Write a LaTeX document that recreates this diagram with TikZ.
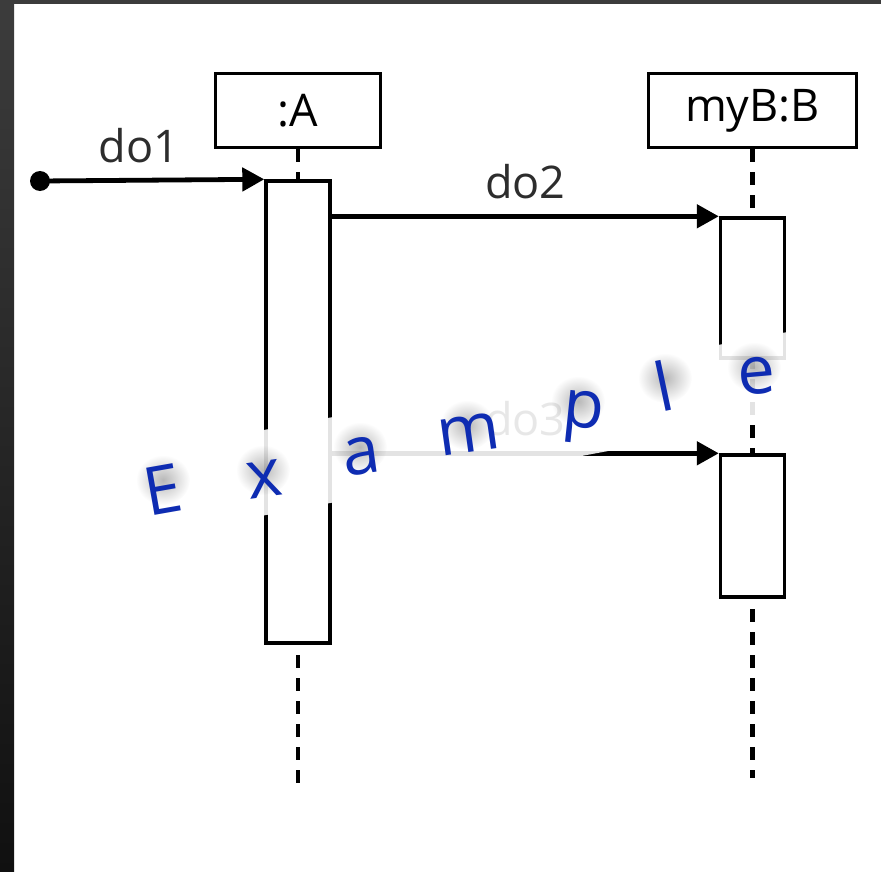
\documentclass[tikz,border=0pt]{standalone}
\usepackage{fontspec}
\setmainfont{Open Sans}
\usetikzlibrary{arrows.meta,fadings}
\definecolor{wmblue}{RGB}{14,44,178}
\definecolor{lblcol}{RGB}{45,45,45}
\definecolor{frameA}{RGB}{60,60,60}
\definecolor{frameB}{RGB}{16,16,16}
\tikzfading[name=softblob,inner color=transparent!72,outer color=transparent!100]
\newcommand\wmlet[6]{%
  \fill[black,path fading=softblob] ([shift={(-4,#6-9)}]#2,#3) ellipse[x radius=27pt,y radius=25pt];%
  \node[wmtext,rotate=#4] (#1) at (#2,#3) {#5};}
\begin{document}
\begin{tikzpicture}[x=1pt,y=-1pt,
  objbox/.style={draw=black,line width=3.4pt,fill=white,inner sep=0pt,minimum width=165pt,minimum height=74pt,font=\fontsize{45pt}{54pt}\selectfont},
  actbox/.style={draw=black,line width=3.4pt,fill=white,inner sep=0pt,minimum width=64pt},
  lifeline/.style={line width=4.6pt,dash pattern=on 13pt off 10pt},
  msg/.style={line width=4.8pt,-{Triangle[length=22pt,width=23pt]}},
  lbl/.style={anchor=base,yshift=18pt,text=lblcol,inner sep=0pt,font=\fontsize{45pt}{54pt}\selectfont},
  wmtext/.style={anchor=base,text=wmblue,inner sep=0pt,font=\fontsize{67pt}{70pt}\selectfont},
]
\fill[white] (0,0) rectangle (881,872);
\shade[top color=frameA,bottom color=frameB] (0,0) rectangle (14,872);
\fill[frameA] (0,0) rectangle (881,4);
\useasboundingbox (0,0) rectangle (881,872);

\node[objbox] (A) at (298,110.5) {:A};
\node[objbox,minimum width=208pt] (B) at (752.5,110.5) {myB:B};
\coordinate (Aend) at (298,785);
\coordinate (Bend) at (752.5,778);
\draw[lifeline] (A.south) -- (Aend);
\draw[lifeline] (B.south) -- (Bend);

\node[actbox,minimum height=462pt] (actA) at (298,412) {};
\node[actbox,minimum height=140pt] (actB1) at (752.5,288) {};
\node[actbox,minimum height=142pt] (actB2) at (752.5,526) {};

\coordinate (src) at (40,181);
\fill (src) circle[radius=10pt];
\draw[msg] (src) -- (actA.north west) node[lbl,pos=0.44] {do1};
\draw[msg] (actA.east |- actB1.north) -- (actB1.north west) node[lbl,midway] {do2};
\draw[msg] (actA.east |- actB2.north) -- (actB2.north west) node[lbl,midway] {do3};

\begin{scope}[rotate around={10.6:(460,436)}]
\fill[white,opacity=0.89] (130,394) -- (805,394) -- (805,478) -- (130,478) -- cycle;
\end{scope}

\wmlet{wE}{167}{513}{10}{E}{-24}
\wmlet{wx}{267}{497}{8}{x}{-18}
\wmlet{wa}{364}{474}{8}{a}{-18}
\wmlet{wm}{471}{452}{8}{m}{-18}
\wmlet{wp}{582}{428}{-6}{p}{-18}
\wmlet{wl}{669}{411}{12}{l}{-24}
\wmlet{we}{758}{394}{5}{e}{-18}
\end{tikzpicture}
\end{document}
